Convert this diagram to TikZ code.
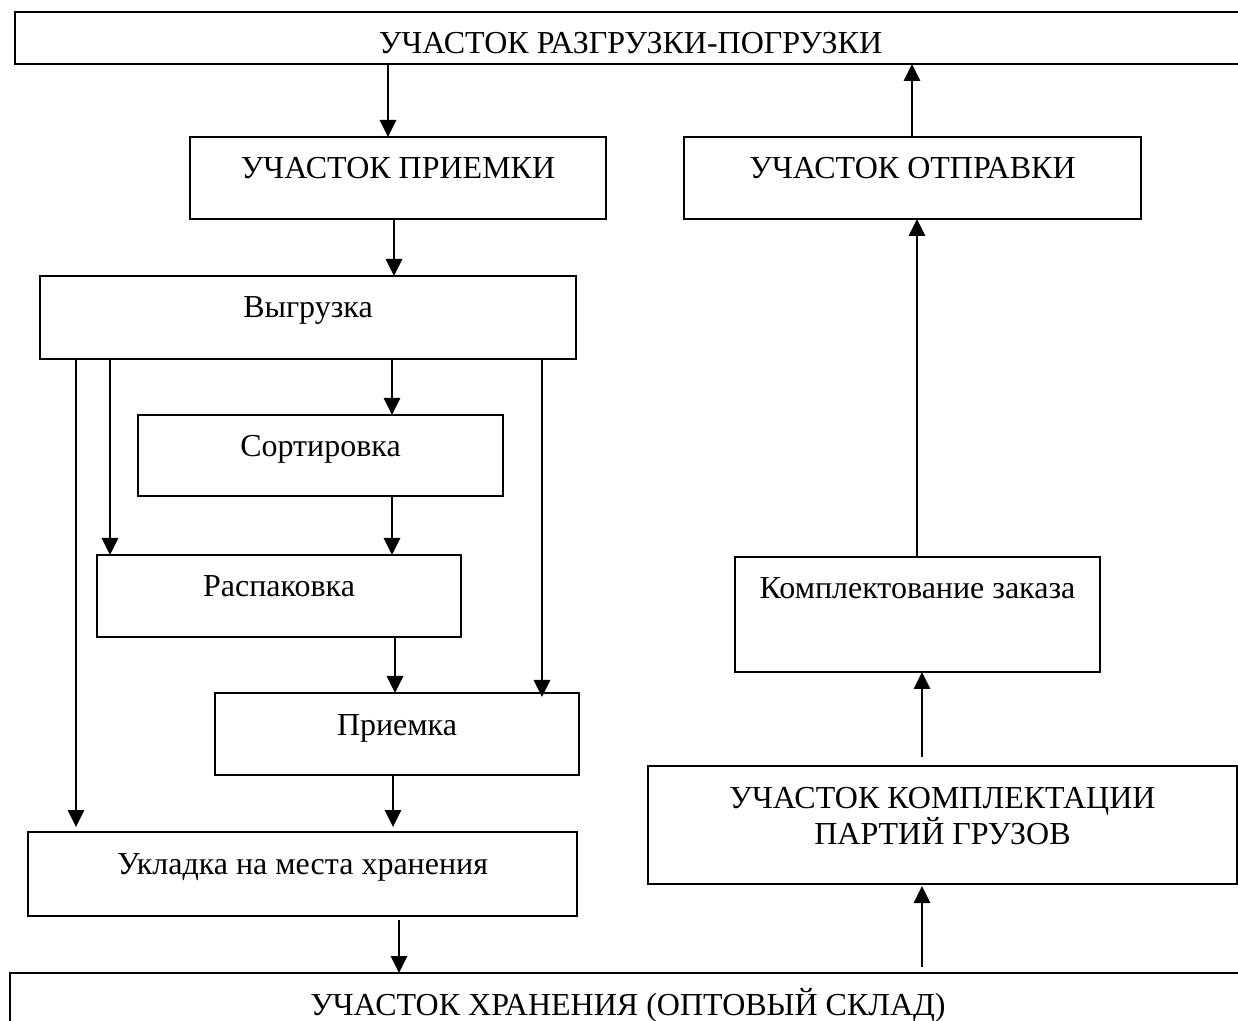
\documentclass[tikz,border=0pt]{standalone}
\usepackage{fontspec}
\setmainfont{Liberation Serif}
\usetikzlibrary{arrows.meta}
\tikzset{
  box/.style={draw, line width=0.8pt, inner sep=0pt, outer sep=0pt},
  lbl/.style={inner sep=0pt, outer sep=0pt, anchor=base, align=center,
              font=\fontsize{16pt}{18pt}\selectfont},
  arr/.style={line width=1.4pt, -{Triangle[width=8pt,length=8.5pt]}}
}
% #1 name, #2 x1, #3 y1, #4 x2, #5 y2, #6 text
\newcommand\mkbox[6]{%
  \node[box, minimum width={(#4-#2)*0.5pt}, minimum height={(#5-#3)*0.5pt}]
    (#1) at ({(#2+#4)/2},{(#3+#5)/2}) {};
  \node[lbl] (#1t) at ([yshift=-21pt]#1.north) {#6};
}
\begin{document}
\begin{tikzpicture}[x=0.5pt,y=-0.5pt]
\useasboundingbox (0,0) rectangle (1238,1021);
\clip (0,0) rectangle (1238,1021);
\mkbox{top}{15}{12}{1246}{64}{УЧАСТОК РАЗГРУЗКИ-ПОГРУЗКИ}
\mkbox{pr}{190}{137}{606}{219}{УЧАСТОК ПРИЕМКИ}
\mkbox{ot}{684}{137}{1141}{219}{УЧАСТОК ОТПРАВКИ}
\mkbox{vy}{40}{276}{576}{359}{Выгрузка}
\mkbox{so}{138}{415}{503}{496}{Сортировка}
\mkbox{ra}{97}{555}{461}{637}{Распаковка}
\mkbox{pm}{215}{693}{579}{775}{Приемка}
\mkbox{uk}{28}{832}{577}{916}{Укладка на места хранения}
\mkbox{bot}{10}{973}{1246}{1040}{УЧАСТОК ХРАНЕНИЯ (ОПТОВЫЙ СКЛАД)}
\mkbox{kz}{735}{557}{1100}{672}{Комплектование заказа}
\node[box, minimum width={(1237-648)*0.5pt}, minimum height={(884-766)*0.5pt}]
  (kp) at ({(648+1237)/2},{(766+884)/2}) {};
\node[lbl] (kpt) at ([yshift=-39pt]kp.north) {УЧАСТОК КОМПЛЕКТАЦИИ\\ПАРТИЙ ГРУЗОВ};

\coordinate (c388) at (388,0);
\coordinate (c912) at (912,0);
\coordinate (c394) at (394,0);
\coordinate (c76) at (76,0);
\coordinate (c110) at (110,0);
\coordinate (c392) at (392,0);
\coordinate (c393) at (393,0);
\coordinate (c542) at (542,0);
\coordinate (c395) at (395,0);
\coordinate (c399) at (399,0);
\coordinate (c917) at (917,0);
\coordinate (c922) at (922,0);

\draw[arr] (top.south -| c388) -- (pr.north -| c388);
\draw[arr] (ot.north -| c912) -- (top.south -| c912);
\draw[arr] (pr.south -| c394) -- (vy.north -| c394);
\draw[arr] (vy.south -| c76) -- ([yshift=2.5pt]uk.north -| c76);
\draw[arr] (vy.south -| c110) -- (ra.north -| c110);
\draw[arr] (vy.south -| c392) -- (so.north -| c392);
\draw[arr] (vy.south -| c542) -- ([yshift=-2pt]pm.north -| c542);
\draw[arr] (so.south -| c392) -- (ra.north -| c392);
\draw[arr] (ra.south -| c395) -- (pm.north -| c395);
\draw[arr] (pm.south -| c393) -- ([yshift=2.5pt]uk.north -| c393);
\draw[arr] ([yshift=-2pt]uk.south -| c399) -- (bot.north -| c399);
\draw[arr] (kz.north -| c917) -- (ot.south -| c917);
\draw[arr] ([yshift=4.5pt]kp.north -| c922) -- (kz.south -| c922);
\draw[arr] ([yshift=3pt]bot.north -| c922) -- ([yshift=-1pt]kp.south -| c922);
\end{tikzpicture}
\end{document}
